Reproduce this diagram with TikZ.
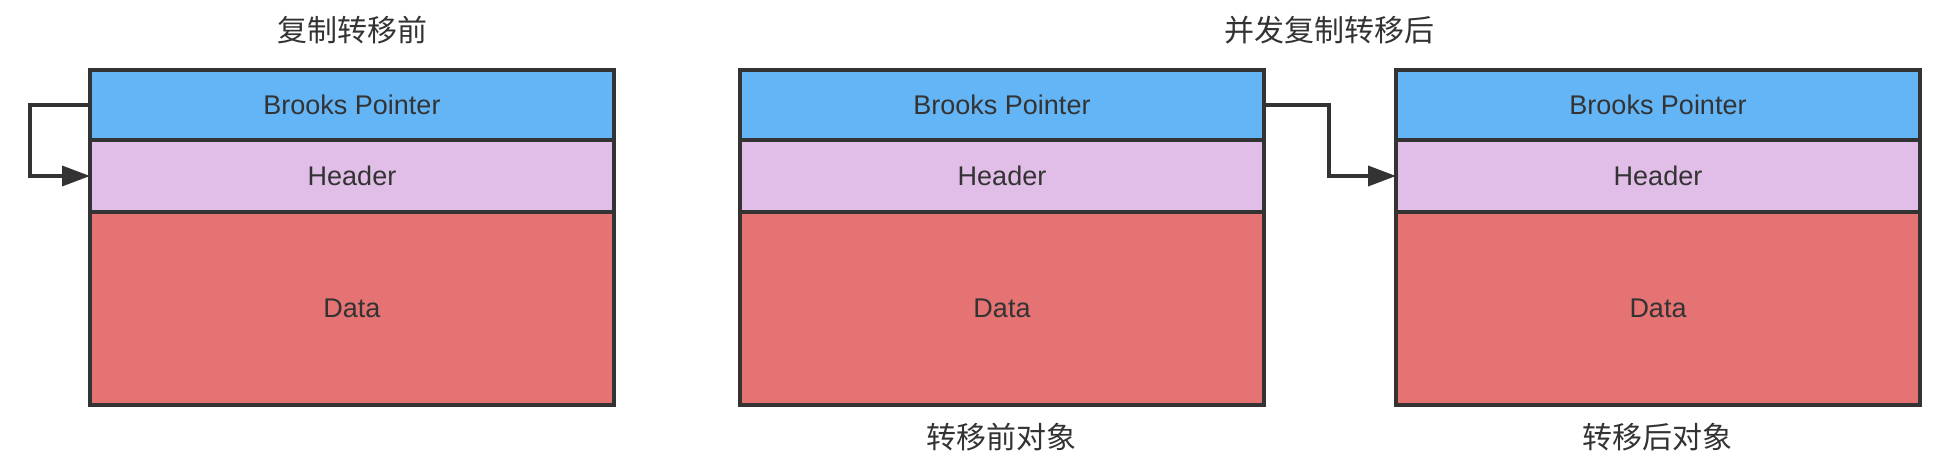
\documentclass[tikz,border=0pt]{standalone}
\usepackage{fontspec}
\setmainfont{Liberation Sans}
\newfontfamily\cjk{Noto Sans CJK SC}
\usetikzlibrary{positioning,arrows.meta}

\definecolor{ptrblue}{HTML}{64B5F6}
\definecolor{hdrpurple}{HTML}{E1BEE7}
\definecolor{datared}{HTML}{E57373}
\definecolor{ink}{HTML}{333333}

\tikzset{
  field/.style={draw=ink,line width=3.6pt,outer sep=0pt,minimum width=524pt,
    text=ink,font=\fontsize{27}{31}\selectfont},
  ptr/.style={field,fill=ptrblue,minimum height=70pt},
  hdr/.style={field,fill=hdrpurple,minimum height=72pt},
  dat/.style={field,fill=datared,minimum height=193pt},
  caption/.style={text=ink,font=\cjk\fontsize{30}{34}\selectfont},
}

\begin{document}
\begin{tikzpicture}[x=1pt,y=-1pt,->,>={Triangle[length=28pt,width=20pt]},line width=3.6pt]

\useasboundingbox (0,0) rectangle (1936,466);

% before copy
\node [ptr,anchor=north west] (bp1) at (90,70) {Brooks Pointer};
\node [hdr,below=0pt of bp1] (hd1) {Header};
\node [dat,below=0pt of hd1] (dt1) {Data};

% old object
\node [ptr,anchor=north west] (bp2) at (740,70) {Brooks Pointer};
\node [hdr,below=0pt of bp2] (hd2) {Header};
\node [dat,below=0pt of hd2] (dt2) {Data};

% new object
\node [ptr,anchor=north west] (bp3) at (1396,70) {Brooks Pointer};
\node [hdr,below=0pt of bp3] (hd3) {Header};
\node [dat,below=0pt of hd3] (dt3) {Data};

\node [caption] (t1) at (352,30) {复制转移前};
\node [caption] (t2) at (1329,30) {并发复制转移后};
\node [caption] (c2) at (1001,437) {转移前对象};
\node [caption] (c3) at (1657,437) {转移后对象};

\draw [ink] (bp1.west) -- ++(-60,0) |- (hd1.west);
\draw [ink] (bp2.east) -- ++(65,0) |- (hd3.west);

\end{tikzpicture}
\end{document}
